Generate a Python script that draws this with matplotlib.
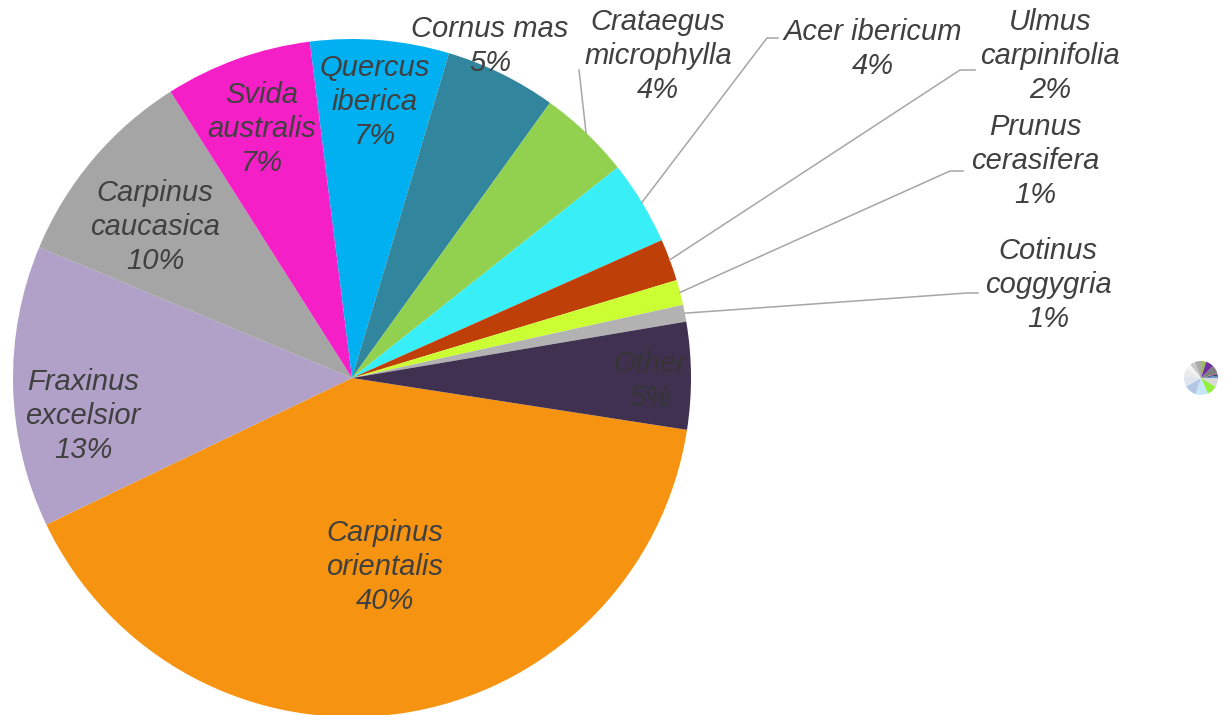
import numpy as np
import matplotlib
matplotlib.use("Agg")
import matplotlib.pyplot as plt

# species shares (clockwise from the big orange slice)
species = ["Carpinus\norientalis", "Fraxinus\nexcelsior", "Carpinus\ncaucasica",
           "Svida\naustralis", "Quercus\niberica", "Cornus mas", "Crataegus\nmicrophylla",
           "Acer ibericum", "Ulmus\ncarpinifolia", "Prunus\ncerasifera",
           "Cotinus\ncoggygria", "Other"]
shares = [40.4, 13.4, 9.7, 7.0, 6.6, 5.3, 4.4, 4.0, 2.0, 1.2, 0.8, 5.1]
colors = ["#F69411", "#B1A0C7", "#A5A5A5", "#F51FC8", "#00B0F0", "#31859C",
          "#92D050", "#38EEF7", "#BE3F08", "#CCFF33", "#B2B2B2", "#403151"]

# the little pie at the right (breakdown of "Other")
other_parts = [5, 8, 8, 1, 1.5, 2, 9, 10, 12, 12, 10, 8, 5, 5, 6]
other_colors = ["#9BBB59", "#7030A0", "#7F7F7F", "#C0504D", "#1F497D", "#4F81BD",
                "#D9D9D9", "#92F03C", "#C6E6FA", "#B4C7E7", "#DCE6EC", "#EAEAEA",
                "#F4F4F4", "#C8C8C8", "#ABABAB"]

W, H = 1227, 715
CX, CY, R = 352, 378, 339  # pie centre / radius in pixels

# label centres (pixels) and leader elbows (pixels, None = label inside)
label_pos = [(385, 567), (83, 416), (155, 227), (262, 129), (375, 102), (490, 46),
             (658, 56), (873, 49), (1050, 56), (1035, 161), (1048, 285), (650, 381)]
leaders = [None, None, None, None, None, None,
           [(579, 70)], [(767, 38), (778, 38)], [(960, 70), (975, 70)],
           [(950, 171), (963, 171)], [(967, 293), (978, 293)], None]

TXT = "#404040"
LINE = "#A6A6A6"


def px2data(x, y):
    return (x - CX) / R, (CY - y) / R


fig = plt.figure(figsize=(W / 100, H / 100), dpi=100)
ax = fig.add_axes([(CX - R) / W, (H - CY - R) / H, 2 * R / W, 2 * R / H])

wedges, _ = ax.pie(shares, colors=colors, startangle=-8.8, counterclock=False,
                   radius=1.0, center=(0, 0), frame=True,
                   wedgeprops=dict(linewidth=0))
ax.set_xlim(-1, 1)
ax.set_ylim(-1, 1)
ax.set_aspect("equal")
ax.axis("off")

total = sum(shares)
for i, w in enumerate(wedges):
    pct = round(100 * shares[i] / total)
    lx, ly = px2data(*label_pos[i])
    col = "#353535" if species[i] == "Other" else TXT
    ax.text(lx, ly, f"{species[i]}\n{pct}%", ha="center", va="center",
            fontsize=21, style="italic", color=col, family="Liberation Sans",
            linespacing=1.27, clip_on=False)
    if leaders[i] is not None:
        mid = np.deg2rad((w.theta1 + w.theta2) / 2)
        xs = [np.cos(mid)]
        ys = [np.sin(mid)]
        for p in leaders[i]:
            dx, dy = px2data(*p)
            xs.append(dx)
            ys.append(dy)
        ax.plot(xs, ys, color=LINE, lw=1.1, clip_on=False)

# small pie
r2 = 17
ax2 = fig.add_axes([(1201 - r2) / W, (H - 378 - r2) / H, 2 * r2 / W, 2 * r2 / H])
ax2.pie(other_parts, colors=other_colors, startangle=90, counterclock=False,
        wedgeprops=dict(linewidth=0))
ax2.set_xlim(-1, 1)
ax2.set_ylim(-1, 1)
ax2.set_aspect("equal")
ax2.axis("off")

fig.savefig("out.png", dpi=100)
